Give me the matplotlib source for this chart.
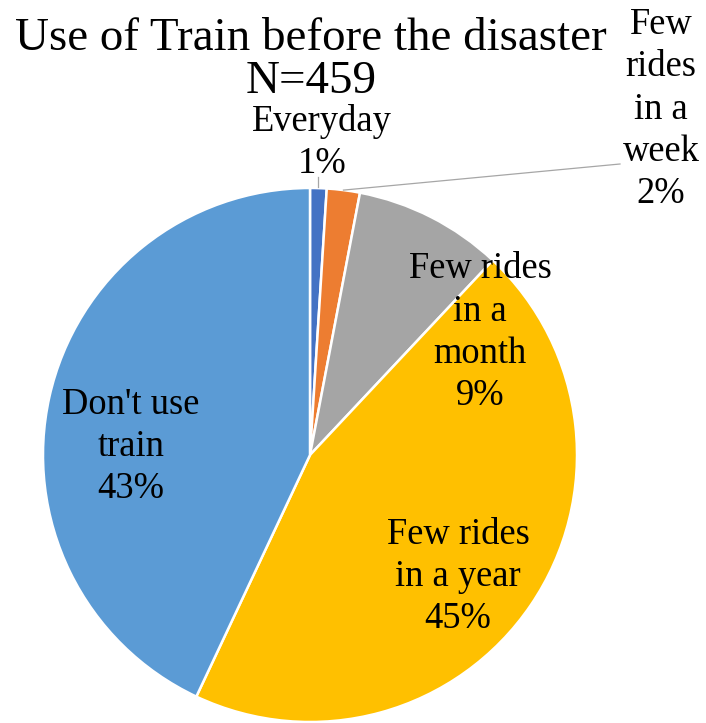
import numpy as np
import matplotlib.pyplot as plt

plt.rcParams['font.family'] = ['Liberation Serif', 'DejaVu Serif']

# usage of the train before the disaster, share of respondents (%)
categories = ["Everyday", "Few rides in a week", "Few rides in a month",
              "Few rides in a year", "Don't use train"]
label_text = ["Everyday", "Few\nrides\nin a\nweek", "Few rides\nin a\nmonth",
              "Few rides\nin a year", "Don't use\ntrain"]
shares = [1, 2, 9, 45, 43]
colors = ['#4472C4', '#ED7D31', '#A5A5A5', '#FFC000', '#5B9BD5']

W, H = 706, 723
fig = plt.figure(figsize=(W / 100, H / 100), dpi=100)
ax = fig.add_axes([0, 0, 1, 1])

# axes in pixel units, y running downward -> slices go clockwise on screen
cx, cy, R = 310, 455, 267
wedges, _ = ax.pie(shares, colors=colors, startangle=-90, counterclock=True,
                   center=(cx, cy), radius=R,
                   wedgeprops=dict(edgecolor='white', linewidth=1.8))
ax.set_xlim(0, W)
ax.set_ylim(H, 0)
ax.set_aspect('equal')
ax.axis('off')

# label anchors (baseline of the percentage line)
label_pos = [(322, 173), (661, 203), (480, 405), (458, 628), (131, 498)]
for txt, v, (lx, ly) in zip(label_text, shares, label_pos):
    ax.text(lx, ly, f"{txt}\n{v}%", ha='center', va='baseline',
            fontsize=26.3, linespacing=1.29)

# leader lines for the two thin slices
def rim_point(w):
    a = np.deg2rad((w.theta1 + w.theta2) / 2)
    return cx + R * np.cos(a), cy + R * np.sin(a)

x0, y0 = rim_point(wedges[0])
ax.plot([x0, x0], [y0 - 1, y0 - 11], color='#A6A6A6', lw=0.9)
x1, y1 = rim_point(wedges[1])
ax.plot([x1, 620], [y1, 164], color='#A6A6A6', lw=0.9)

ax.text(311, 93, "Use of Train before the disaster\nN=459", ha='center',
        va='baseline', fontsize=33.8, linespacing=1.03)

fig.savefig('out.png', dpi=100)
